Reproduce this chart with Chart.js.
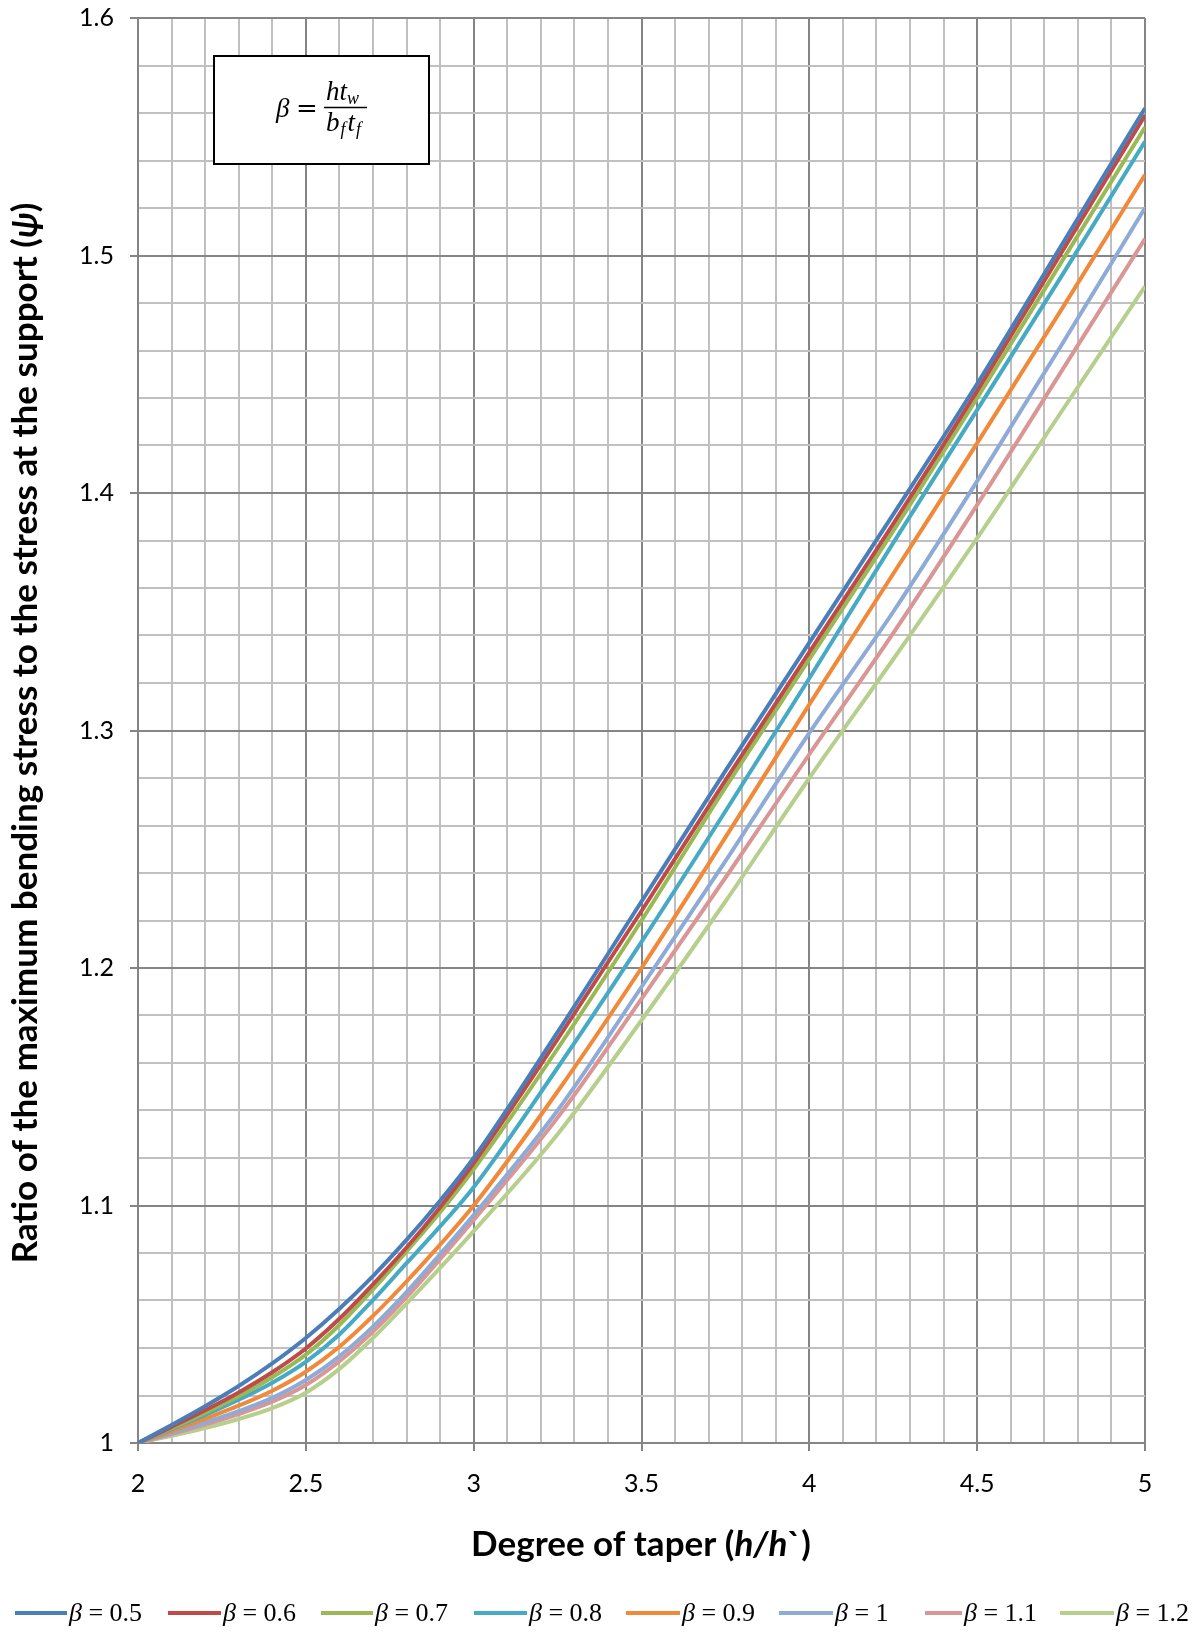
<!DOCTYPE html>
<html>
<head>
<meta charset="utf-8">
<script src="https://cdn.jsdelivr.net/npm/chart.js@4.4.0/dist/chart.umd.min.js"></script>
<style>
  html, body { margin: 0; padding: 0; background: #fff; }
  #wrap { width: 1201px; height: 1632px; position: relative; }
</style>
</head>
<body>
<div id="wrap"><canvas id="chart"></canvas></div>
<script>
// Degree of taper (x) and psi values for each beta
const taper = [2, 2.1, 2.2, 2.3, 2.4, 2.5, 2.6, 2.7, 2.8, 2.9, 3, 3.25, 3.5, 3.75, 4, 4.25, 4.5, 4.75, 5];
const beta05 = [1.000, 1.0076, 1.0155, 1.0240, 1.0335, 1.0442, 1.0565, 1.0703, 1.0855, 1.1020, 1.1200, 1.173, 1.228, 1.283, 1.337, 1.391, 1.446, 1.504, 1.562];
const beta06 = [1.000, 1.0068, 1.0138, 1.0213, 1.0298, 1.0398, 1.0523, 1.0668, 1.0823, 1.0993, 1.1178, 1.170, 1.224, 1.279, 1.333, 1.387, 1.443, 1.501, 1.559];
const beta07 = [1.000, 1.0062, 1.0127, 1.0197, 1.0277, 1.0372, 1.0497, 1.0647, 1.0807, 1.0972, 1.1152, 1.166, 1.220, 1.276, 1.330, 1.384, 1.440, 1.497, 1.554];
const beta08 = [1.000, 1.0058, 1.0118, 1.0182, 1.0254, 1.0342, 1.0457, 1.0602, 1.0757, 1.0912, 1.1077, 1.158, 1.211, 1.266, 1.322, 1.379, 1.435, 1.491, 1.548];
const beta09 = [1.000, 1.0050, 1.0102, 1.0157, 1.0220, 1.0300, 1.0405, 1.0535, 1.0680, 1.0835, 1.1000, 1.148, 1.200, 1.255, 1.311, 1.366, 1.421, 1.477, 1.534];
const beta10 = [1.000, 1.0042, 1.0086, 1.0134, 1.0190, 1.0265, 1.0365, 1.0490, 1.0635, 1.0795, 1.0960, 1.140, 1.192, 1.245, 1.299, 1.350, 1.405, 1.462, 1.520];
const beta11 = [1.000, 1.0038, 1.0078, 1.0122, 1.0174, 1.0244, 1.0344, 1.0469, 1.0614, 1.0774, 1.0939, 1.137, 1.187, 1.238, 1.290, 1.341, 1.395, 1.451, 1.507];
const beta12 = [1.000, 1.0030, 1.0063, 1.0101, 1.0147, 1.0212, 1.0312, 1.0442, 1.0587, 1.0737, 1.0892, 1.130, 1.178, 1.228, 1.280, 1.330, 1.381, 1.434, 1.487];

const seriesLabels = ['β = 0.5', 'β = 0.6', 'β = 0.7', 'β = 0.8', 'β = 0.9', 'β = 1', 'β = 1.1', 'β = 1.2'];
const seriesValues = [beta05, beta06, beta07, beta08, beta09, beta10, beta11, beta12];
const seriesColors = ['#4a7ebb', '#be4b48', '#98b954', '#46aac5', '#f08a3a', '#8eaad6', '#d99694', '#b7cf8d'];

const xTitle = [['Degree of taper (', ''], ['h/h', 'italic '], ['`)', '']];
const yTitle = [['Ratio of the maximum bending stress to the stress at the support (', ''], ['ψ', 'italic '], [')', '']];

const MAJOR = '#858585';
const MINOR = '#c0c0c0';
const isMajorX = v => Math.abs(v * 2 - Math.round(v * 2)) < 1e-6;
const isMajorY = v => Math.abs(v * 10 - Math.round(v * 10)) < 1e-6;

// legend slots as Excel placed them
const legendX = [15, 168, 321, 474, 626, 779, 925, 1060];
const legendLine = [52, 53, 52, 53, 54, 54, 37, 54];

function runsWidth(ctx, runs) {
    let w = 0;
    runs.forEach(r => { ctx.font = r.font; w += ctx.measureText(r.text).width; });
    return w;
}
function drawRuns(ctx, runs, x, y) {
    let cx = x;
    runs.forEach(r => {
        ctx.font = r.font;
        ctx.fillText(r.text, cx, y);
        cx += ctx.measureText(r.text).width;
    });
    return cx;
}
function titleRuns(ctx, parts, targetWidth) {
    const mk = size => parts.map(p => ({ text: p[0], font: p[1] + 'bold ' + size + 'px Lato' }));
    const w = runsWidth(ctx, mk(30));
    const size = Math.min(42, 30 * targetWidth / w);
    return mk(size);
}

const decor = {
    id: 'decor',
    afterDraw(chart) {
        const ctx = chart.ctx;
        const serif = '"Liberation Serif", "DejaVu Serif", serif';
        ctx.save();
        ctx.textBaseline = 'alphabetic';

        // formula box
        ctx.fillStyle = '#fff';
        ctx.fillRect(214, 56, 215, 108);
        ctx.strokeStyle = '#000';
        ctx.lineWidth = 2;
        ctx.strokeRect(214, 56, 215, 108);
        ctx.fillStyle = '#000';
        const big = 'italic 27px ' + serif;
        const small = 'italic 18px ' + serif;
        ctx.font = big;
        ctx.fillText('β', 276, 117);
        ctx.font = '26px "DejaVu Serif", serif';
        ctx.fillText('=', 296, 117);
        ctx.font = big;
        ctx.fillText('ht', 326, 100);
        const htw = ctx.measureText('ht').width;
        ctx.font = small;
        ctx.fillText('w', 326 + htw, 104);
        ctx.lineWidth = 1.6;
        ctx.beginPath();
        ctx.moveTo(324, 107.5);
        ctx.lineTo(367, 107.5);
        ctx.stroke();
        let cx = 326;
        ctx.font = big; ctx.fillText('b', cx, 131); cx += ctx.measureText('b').width;
        ctx.font = small; ctx.fillText('f', cx + 1, 135); cx += ctx.measureText('f').width + 3;
        ctx.font = big; ctx.fillText('t', cx, 131); cx += ctx.measureText('t').width;
        ctx.font = small; ctx.fillText('f', cx + 1, 135);

        // axis titles
        ctx.textBaseline = 'middle';
        const xr = titleRuns(ctx, xTitle, 340);
        drawRuns(ctx, xr, 641 - runsWidth(ctx, xr) / 2, 1545);
        const yr = titleRuns(ctx, yTitle, 1061);
        ctx.save();
        ctx.translate(26, 733);
        ctx.rotate(-Math.PI / 2);
        drawRuns(ctx, yr, -runsWidth(ctx, yr) / 2, 0);
        ctx.restore();

        // legend
        chart.data.datasets.forEach((ds, i) => {
            const x0 = legendX[i];
            const y0 = 1613;
            ctx.strokeStyle = ds.borderColor;
            ctx.lineWidth = 4;
            ctx.beginPath();
            ctx.moveTo(x0, y0);
            ctx.lineTo(x0 + legendLine[i], y0);
            ctx.stroke();
            ctx.fillStyle = '#000';
            ctx.textBaseline = 'middle';
            drawRuns(ctx, [
                { text: ds.label.slice(0, 1), font: 'italic 26px ' + serif },
                { text: ds.label.slice(1), font: '26px ' + serif }
            ], x0 + legendLine[i] + 2, y0 + 1);
        });
        ctx.restore();
    }
};

const datasets = seriesValues.map((vals, i) => ({
    label: seriesLabels[i],
    data: taper.map((x, j) => ({ x: x, y: vals[j] })),
    borderColor: seriesColors[i],
    backgroundColor: seriesColors[i],
    borderWidth: 4,
    pointRadius: 0,
    fill: false,
    cubicInterpolationMode: 'monotone'
}));

new Chart(document.getElementById('chart').getContext('2d'), {
    type: 'line',
    data: { datasets: datasets },
    options: {
        responsive: true,
        maintainAspectRatio: false,
        animation: false,
        layout: { padding: { left: 0, right: 56, top: 18, bottom: 0 } },
        plugins: {
            legend: { display: false },
            tooltip: { enabled: false }
        },
        scales: {
            x: {
                type: 'linear',
                min: 2,
                max: 5,
                afterFit: s => { s.height = 189; s.paddingLeft = 0; s.paddingRight = 0; },
                border: { color: MAJOR, width: 2 },
                grid: {
                    color: c => isMajorX(c.tick.value) ? MAJOR : MINOR,
                    tickColor: c => isMajorX(c.tick.value) ? MAJOR : 'rgba(0,0,0,0)',
                    lineWidth: 2,
                    tickLength: 8
                },
                ticks: {
                    stepSize: 0.1,
                    autoSkip: false,
                    maxRotation: 0,
                    padding: 18,
                    color: '#000',
                    font: { family: 'Lato', size: 25 },
                    callback: v => isMajorX(v) ? (Math.abs(v - Math.round(v)) < 1e-6 ? String(Math.round(v)) : v.toFixed(1)) : ''
                }
            },
            y: {
                min: 1,
                max: 1.6,
                afterFit: s => { s.width = 138; s.paddingTop = 0; s.paddingBottom = 0; },
                border: { color: MAJOR, width: 2 },
                grid: {
                    color: c => isMajorY(c.tick.value) ? MAJOR : MINOR,
                    tickColor: c => isMajorY(c.tick.value) ? MAJOR : 'rgba(0,0,0,0)',
                    lineWidth: 2,
                    tickLength: 8
                },
                ticks: {
                    stepSize: 0.02,
                    autoSkip: false,
                    padding: 16,
                    color: '#000',
                    font: { family: 'Lato', size: 25 },
                    callback: v => isMajorY(v) ? (Math.abs(v - 1) < 1e-6 ? '1' : v.toFixed(1)) : ''
                }
            }
        }
    },
    plugins: [decor]
});
</script>
</body>
</html>
